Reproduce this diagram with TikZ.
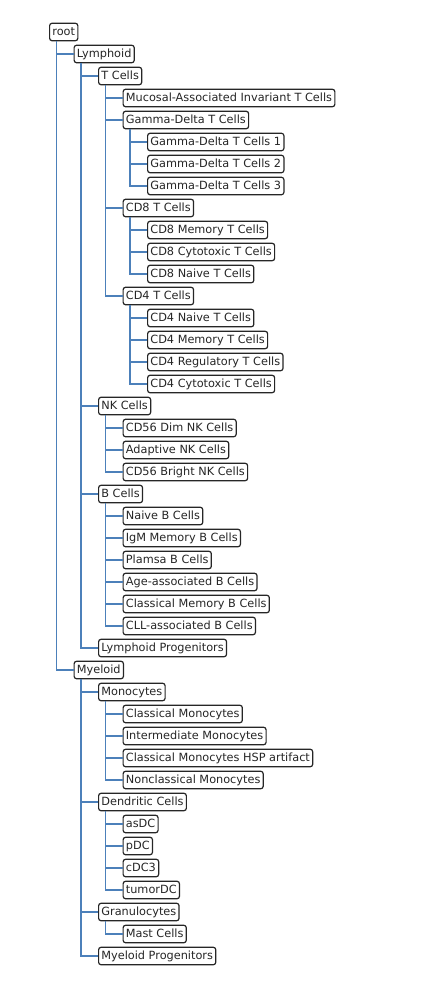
\documentclass[tikz,border=0pt]{standalone}
\usepackage{fontspec}
\setmainfont{DejaVu Sans}
\definecolor{lc}{HTML}{4C80BA}
\definecolor{bc}{HTML}{262626}
\begin{document}
\begin{tikzpicture}[x=1pt,y=1pt,
  tn/.style={draw=bc,text=bc,fill=white,rounded corners=2.5pt,line width=1.2pt,anchor=west,
    inner xsep=2.8pt,inner ysep=0pt,minimum height=17.5pt,text height=8.4pt,text depth=2.2pt,
    font=\fontsize{11.3}{13}\selectfont},
  conn/.style={draw=lc,line width=1.05pt}]
\useasboundingbox (0,0) rectangle (435,-1000);
\def\La{49}\def\Lb{73.5}\def\Lc{98}\def\Ld{122.5}\def\Le{147}
\node[tn] (n0) at (\La,-32) {root};
\node[tn] (n1) at (\Lb,-54) {Lymphoid};
\node[tn] (n2) at (\Lc,-76) {T Cells};
\node[tn] (n3) at (\Ld,-98) {Mucosal-Associated Invariant T Cells};
\node[tn] (n4) at (\Ld,-120) {Gamma-Delta T Cells};
\node[tn] (n5) at (\Le,-142) {Gamma-Delta T Cells 1};
\node[tn] (n6) at (\Le,-164) {Gamma-Delta T Cells 2};
\node[tn] (n7) at (\Le,-186) {Gamma-Delta T Cells 3};
\node[tn] (n8) at (\Ld,-208) {CD8 T Cells};
\node[tn] (n9) at (\Le,-230) {CD8 Memory T Cells};
\node[tn] (n10) at (\Le,-252) {CD8 Cytotoxic T Cells};
\node[tn] (n11) at (\Le,-274) {CD8 Naive T Cells};
\node[tn] (n12) at (\Ld,-296) {CD4 T Cells};
\node[tn] (n13) at (\Le,-318) {CD4 Naive T Cells};
\node[tn] (n14) at (\Le,-340) {CD4 Memory T Cells};
\node[tn] (n15) at (\Le,-362) {CD4 Regulatory T Cells};
\node[tn] (n16) at (\Le,-384) {CD4 Cytotoxic T Cells};
\node[tn] (n17) at (\Lc,-406) {NK Cells};
\node[tn] (n18) at (\Ld,-428) {CD56 Dim NK Cells};
\node[tn] (n19) at (\Ld,-450) {Adaptive NK Cells};
\node[tn] (n20) at (\Ld,-472) {CD56 Bright NK Cells};
\node[tn] (n21) at (\Lc,-494) {B Cells};
\node[tn] (n22) at (\Ld,-516) {Naive B Cells};
\node[tn] (n23) at (\Ld,-538) {IgM Memory B Cells};
\node[tn] (n24) at (\Ld,-560) {Plamsa B Cells};
\node[tn] (n25) at (\Ld,-582) {Age-associated B Cells};
\node[tn] (n26) at (\Ld,-604) {Classical Memory B Cells};
\node[tn] (n27) at (\Ld,-626) {CLL-associated B Cells};
\node[tn] (n28) at (\Lc,-648) {Lymphoid Progenitors};
\node[tn] (n29) at (\Lb,-670) {Myeloid};
\node[tn] (n30) at (\Lc,-692) {Monocytes};
\node[tn] (n31) at (\Ld,-714) {Classical Monocytes};
\node[tn] (n32) at (\Ld,-736) {Intermediate Monocytes};
\node[tn] (n33) at (\Ld,-758) {Classical Monocytes HSP artifact};
\node[tn] (n34) at (\Ld,-780) {Nonclassical Monocytes};
\node[tn] (n35) at (\Lc,-802) {Dendritic Cells};
\node[tn] (n36) at (\Ld,-824) {asDC};
\node[tn] (n37) at (\Ld,-846) {pDC};
\node[tn] (n38) at (\Ld,-868) {cDC3};
\node[tn] (n39) at (\Ld,-890) {tumorDC};
\node[tn] (n40) at (\Lc,-912) {Granulocytes};
\node[tn] (n41) at (\Ld,-934) {Mast Cells};
\node[tn] (n42) at (\Lc,-956) {Myeloid Progenitors};
\foreach \p/\c in {0/1,0/29,1/2,1/17,1/21,1/28,2/3,2/4,2/8,2/12,4/5,4/6,4/7,8/9,8/10,8/11,
  12/13,12/14,12/15,12/16,17/18,17/19,17/20,21/22,21/23,21/24,21/25,21/26,21/27,
  29/30,29/35,29/40,29/42,30/31,30/32,30/33,30/34,35/36,35/37,35/38,35/39,40/41}
  \draw[conn] ([xshift=7.5pt]n\p.south west) |- (n\c.west);
\end{tikzpicture}
\end{document}
